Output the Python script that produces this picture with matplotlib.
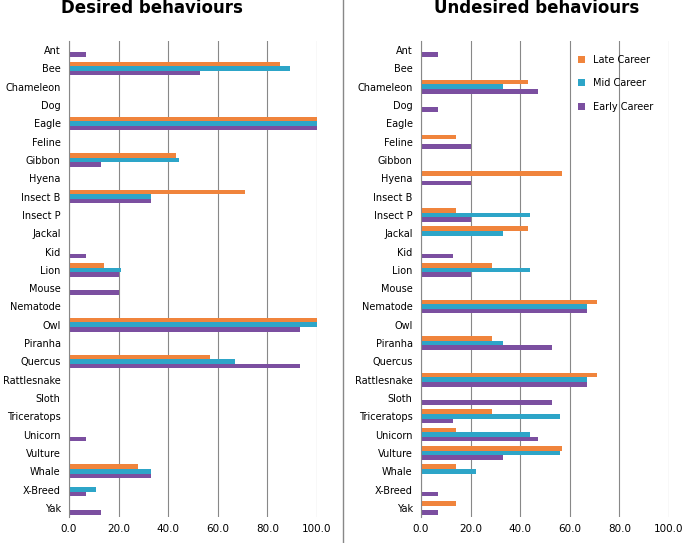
import numpy as np
import matplotlib.pyplot as plt

categories = ["Ant", "Bee", "Chameleon", "Dog", "Eagle", "Feline", "Gibbon", "Hyena",
              "Insect B", "Insect P", "Jackal", "Kid", "Lion", "Mouse", "Nematode", "Owl",
              "Piranha", "Quercus", "Rattlesnake", "Sloth", "Triceratops", "Unicorn",
              "Vulture", "Whale", "X-Breed", "Yak"]

# desired behaviours
des_late = [0, 85, 0, 0, 100, 0, 43, 0, 71, 0, 0, 0, 14, 0, 0, 100, 0, 57, 0, 0, 0, 0, 0, 28, 0, 0]
des_mid = [0, 89, 0, 0, 100, 0, 44.5, 0, 33, 0, 0, 0, 21, 0, 0, 100, 0, 67, 0, 0, 0, 0, 0, 33, 11, 0]
des_early = [7, 53, 0, 0, 100, 0, 13, 0, 33, 0, 0, 7, 20, 20, 0, 93, 0, 93, 0, 0, 0, 7, 0, 33, 7, 13]

# undesired behaviours
und_late = [0, 0, 43, 0, 0, 14, 0, 57, 0, 14, 43, 0, 28.5, 0, 71, 0, 28.5, 0, 71, 0, 28.5, 14, 57, 14, 0, 14]
und_mid = [0, 0, 33, 0, 0, 0, 0, 0, 0, 44, 33, 0, 44, 0, 67, 0, 33, 0, 67, 0, 56, 44, 56, 22, 0, 0]
und_early = [7, 0, 47, 7, 0, 20, 0, 20, 0, 20, 0, 13, 20, 0, 67, 0, 53, 0, 67, 53, 13, 47, 33, 0, 7, 7]

c_late = "#F0843C"
c_mid = "#2DA5C8"
c_early = "#7B4FA0"

fig = plt.figure(figsize=(6.84, 5.43), dpi=100)
ax1 = fig.add_axes([69/684, 26/543, 248/684, 476/543])
ax2 = fig.add_axes([421/684, 26/543, 248/684, 476/543])

y = np.arange(len(categories))
h = 0.25


def draw(ax, late, mid, early):
    ax.barh(y - h, late, h, color=c_late, label="Late Career")
    ax.barh(y, mid, h, color=c_mid, label="Mid Career")
    ax.barh(y + h, early, h, color=c_early, label="Early Career")
    ax.set_ylim(len(categories) - 0.5, -0.5)
    ax.set_xlim(0, 100)
    ax.set_xticks(range(0, 101, 20))
    ax.set_xticklabels([f"{v:.1f}" for v in range(0, 101, 20)], fontsize=7.5)
    ax.set_yticks(y)
    ax.set_yticklabels(categories, fontsize=7)
    ax.tick_params(axis="y", length=0, pad=6)
    ax.tick_params(axis="x", length=0, pad=5)
    ax.grid(axis="x", color="#888888", linewidth=0.8)
    ax.set_axisbelow(True)
    for s in ["top", "right", "bottom"]:
        ax.spines[s].set_visible(False)
    ax.spines["left"].set_color("#888888")


draw(ax1, des_late, des_mid, des_early)
draw(ax2, und_late, und_mid, und_early)
fig.text(152/684, 1 - 8/543, "Desired behaviours", fontsize=12, fontweight="bold",
         ha="center", va="center")
fig.text(537/684, 1 - 8/543, "Undesired behaviours", fontsize=12, fontweight="bold",
         ha="center", va="center")
ax2.legend(loc="upper right", fontsize=7, frameon=False, labelspacing=1.4,
           handlelength=0.7, handleheight=0.7, bbox_to_anchor=(0.97, 0.99))

fig.add_artist(plt.Line2D([343/684, 343/684], [0, 1], color="#888888", linewidth=1))

fig.savefig("out.png", dpi=100)
